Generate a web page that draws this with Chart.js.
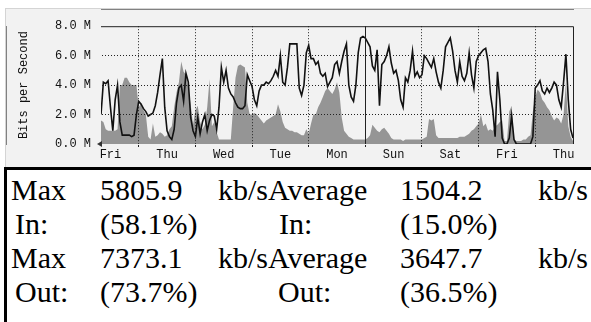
<!DOCTYPE html>
<html>
<head>
<meta charset="utf-8">
<script src="https://cdn.jsdelivr.net/npm/chart.js@4/dist/chart.umd.min.js"></script>
<style>
  html, body { margin: 0; padding: 0; background: #fff; }
  body { width: 591px; height: 322px; position: relative; overflow: hidden; }
  #graph {
    position: absolute; left: 5px; top: 8px; width: 586px; height: 159px;
    background: #f2f2f2; border-top: 1px solid #d4d4d4; border-left: 1px solid #d4d4d4;
    box-sizing: border-box;
  }
  #topRule { position: absolute; left: 4px; top: 167px; width: 587px; height: 3px; background: #000; }
  #leftRule { position: absolute; left: 4px; top: 167px; width: 3px; height: 155px; background: #000; }
  .t {
    position: absolute;
    font-family: 'Liberation Serif', 'Tinos', 'Times New Roman', 'DejaVu Serif', 'Noto Serif', serif;
    font-size: 30px; line-height: 34px; white-space: pre; color: #000;
  }
</style>
</head>
<body>
<div id="graph"><canvas id="mrtgChart"></canvas></div>
<div id="topRule"></div>
<div id="leftRule"></div>
<div id="stats"></div>

<script>
// --- datos (Mbit/s), una muestra por hora, de ahora hacia atrás ---

// salida (línea negra)
const outBits = [
  2.0, 4.2, 4.1, 4.3, 2.5, 0.9, 3.0, 4.0, 1.5, 0.6,
  0.6, 0.6, 0.6, 0.5, 0.6, 2.0, 2.9, 2.7, 2.4, 2.2,
  1.9, 2.0, 2.1, 2.6, 3.5, 4.7, 5.8, 2.5, 0.9, 0.5,
  0.3, 1.0, 2.8, 3.8, 4.0, 2.9, 4.8, 4.2, 1.8, 0.9,
  0.5, 1.8, 0.7, 1.5, 2.0, 0.9, 1.6, 2.0, 1.9, 1.0,
  2.5, 5.2, 4.2, 5.0, 3.8, 3.4, 3.2, 2.8, 2.5, 2.4,
  2.4, 2.6, 4.7, 4.3, 3.9, 3.0, 2.6, 3.6, 4.0, 4.0,
  4.2, 4.1, 4.3, 4.6, 5.0, 4.6, 6.0, 4.2, 4.0, 5.2,
  6.8, 6.8, 6.8, 6.8, 3.8, 3.3, 4.0, 6.2, 6.7, 5.8,
  5.8, 5.4, 5.6, 4.8, 4.6, 4.8, 3.9, 4.2, 4.5, 5.4,
  5.6, 4.8, 5.6, 6.3, 6.8, 4.0, 3.2, 2.9, 4.0, 6.2,
  7.2, 7.3, 7.2, 6.9, 6.6, 5.3, 5.0, 6.4, 2.6, 5.4,
  5.6, 6.0, 6.6, 5.5, 4.8, 5.0, 4.3, 3.0, 2.5, 4.5,
  4.2, 5.0, 6.3, 4.6, 4.9, 4.5, 4.7, 6.0, 5.8, 5.5,
  5.2, 5.8, 4.9, 4.2, 3.8, 5.0, 6.6, 6.9, 7.2, 6.3,
  5.0, 4.2, 5.6, 4.6, 4.3, 4.8, 6.2, 4.7, 3.8, 5.6,
  6.0, 6.2, 6.4, 6.5, 5.6, 3.4, 2.3, 0.5, 4.9, 3.0,
  0.4, 0.0, 0.0, 0.4, 1.9, 0.3, 0.0, 0.0, 0.0, 0.0,
  0.0, 0.0, 0.0, 0.5, 3.8, 4.0, 4.3, 3.6, 3.4, 3.8,
  3.5, 3.8, 4.2, 4.0, 3.0, 2.5, 4.2, 6.1, 3.0, 1.0,
  0.4];

// entrada (área gris)
const inBits = [
  1.6, 1.5, 1.0, 0.9, 0.9, 0.9, 0.9, 1.0, 4.0, 4.0,
  4.5, 4.5, 4.2, 4.0, 4.0, 4.0, 2.5, 2.8, 2.3, 2.0,
  0.5, 0.3, 1.4, 0.5, 0.6, 0.8, 0.7, 0.5, 0.6, 1.0,
  1.2, 2.5, 3.5, 4.2, 5.6, 4.9, 4.7, 3.8, 2.7, 1.3,
  2.3, 2.6, 1.5, 1.0, 1.3, 2.5, 4.4, 1.2, 1.5, 0.8,
  0.3, 0.3, 0.3, 0.3, 0.3, 0.3, 2.5, 4.5, 5.3, 5.4,
  5.3, 5.2, 2.8, 2.0, 2.0, 2.1, 2.0, 1.8, 1.6, 1.4,
  1.6, 1.7, 1.8, 1.9, 2.0, 2.7, 2.2, 1.5, 1.1, 1.0,
  0.9, 0.9, 0.8, 0.8, 0.7, 0.6, 0.6, 1.0, 0.7, 1.4,
  2.0, 2.0, 2.5, 2.8, 3.2, 3.6, 3.8, 3.6, 3.4, 3.7,
  4.2, 3.5, 1.8, 0.9, 0.7, 0.5, 0.4, 0.3, 0.3, 0.3,
  0.3, 0.3, 0.3, 0.4, 0.6, 1.3, 1.1, 0.9, 0.8, 1.0,
  1.1, 0.9, 0.7, 0.4, 0.3, 0.3, 0.3, 0.3, 0.2, 0.3,
  0.3, 0.3, 0.3, 0.3, 0.3, 0.3, 0.3, 0.4, 0.5, 1.7,
  1.6, 1.7, 0.6, 0.4, 0.4, 0.4, 0.4, 0.4, 0.4, 0.4,
  0.4, 0.4, 0.5, 0.5, 0.5, 0.6, 0.7, 0.9, 1.0, 1.2,
  1.4, 2.0, 1.2, 1.4, 0.9, 1.0, 0.9, 1.2, 1.3, 1.5,
  1.6, 0.2, 0.2, 2.2, 2.6, 0.3, 0.2, 0.2, 0.2, 0.3,
  0.3, 0.5, 0.6, 2.2, 3.2, 3.7, 3.5, 3.0, 2.8, 2.5,
  2.3, 1.9, 1.6, 1.8, 1.7, 1.4, 2.0, 4.2, 1.2, 0.5,
  0.2];

// horas atrás de cada muestra
const hours = outBits.map((_, i) => i);

// medianoche (rejilla) y mediodía (etiquetas)
const midnightHours = [16, 40, 64, 88, 112, 136, 160, 184];
const weekStartHour = 112;
const dayHours = [4, 28, 52, 76, 100, 124, 148, 172, 196];
const dayLabels = ['Fri', 'Thu', 'Wed', 'Tue', 'Mon', 'Sun', 'Sat', 'Fri', 'Thu'];
const yTicks = [0, 2, 4, 6, 8];

// tabla de resumen
const statRows = [
  [['Max', 11], ['5805.9', 100], ['kb/sAverage', 218], ['1504.2', 400], ['kb/s', 538]],
  [['In:', 15], ['(58.1%)', 100], ['In:', 279], ['(15.0%)', 400]],
  [['Max', 11], ['7373.1', 100], ['kb/sAverage', 218], ['3647.7', 400], ['kb/s', 538]],
  [['Out:', 15], ['(73.7%)', 100], ['Out:', 278], ['(36.5%)', 400]]
];
const statBaselines = [200, 234, 268, 302];

const stats = document.getElementById('stats');
statRows.forEach((row, r) => {
  row.forEach(([text, x]) => {
    const s = document.createElement('div');
    s.className = 't';
    s.textContent = text;
    s.style.left = x + 'px';
    s.style.top = (statBaselines[r] - 27) + 'px';
    stats.appendChild(s);
  });
});

const monoFont = { family: '"Liberation Mono", "DejaVu Sans Mono", monospace', size: 12 };
const gridTicks = midnightHours.concat(dayHours).sort((a, b) => a - b);

// marco superior/derecho y flecha del origen
const framePlugin = {
  id: 'frame',
  afterDraw(chart) {
    const { ctx, chartArea: a } = chart;
    ctx.save();
    ctx.strokeStyle = '#222';
    ctx.lineWidth = 1;
    ctx.beginPath();
    ctx.moveTo(a.left, a.top + 0.5);
    ctx.lineTo(a.right + 0.5, a.top + 0.5);
    ctx.lineTo(a.right + 0.5, a.bottom);
    ctx.stroke();
    ctx.fillStyle = '#333';
    ctx.beginPath();
    ctx.moveTo(a.left - 4, a.bottom);
    ctx.lineTo(a.left + 1, a.bottom - 3);
    ctx.lineTo(a.left + 1, a.bottom + 3);
    ctx.closePath();
    ctx.fill();
    ctx.restore();
  }
};

new Chart(document.getElementById('mrtgChart'), {
  type: 'line',
  data: {
    labels: hours,
    datasets: [{
      label: 'Out',
      data: hours.map((h, i) => ({ x: h, y: outBits[i] })),
      borderColor: '#111',
      borderWidth: 1.6,
      pointRadius: 0,
      tension: 0,
      fill: false
    }, {
      label: 'In',
      data: hours.map((h, i) => ({ x: h, y: inBits[i] })),
      borderWidth: 0,
      borderColor: 'rgba(0,0,0,0)',
      backgroundColor: '#959595',
      pointRadius: 0,
      tension: 0,
      fill: 'origin'
    }]
  },
  options: {
    responsive: true,
    maintainAspectRatio: false,
    animation: false,
    layout: { padding: { left: 11, top: 16, right: 18, bottom: 0 } },
    plugins: { legend: { display: false }, tooltip: { enabled: false } },
    scales: {
      x: {
        type: 'linear',
        min: 0,
        max: 200,
        afterBuildTicks: (scale) => { scale.ticks = gridTicks.map(v => ({ value: v })); },
        afterFit: (scale) => { scale.height = 23; },
        ticks: {
          autoSkip: false,
          maxRotation: 0,
          padding: 1,
          color: '#111',
          font: monoFont,
          callback: (v) => { const i = dayHours.indexOf(v); return i >= 0 ? dayLabels[i] : ''; }
        },
        grid: {
          z: 1,
          tickLength: 3,
          color: (c) => (c.tick && midnightHours.includes(c.tick.value)) ? '#222' : 'rgba(0,0,0,0)',
          tickColor: (c) => (c.tick && midnightHours.includes(c.tick.value)) ? '#222' : 'rgba(0,0,0,0)'
        },
        border: {
          color: '#111',
          width: 1,
          dash: (c) => (c.tick && c.tick.value === weekStartHour) ? [] : [1, 2]
        }
      },
      y: {
        min: 0,
        max: 8,
        afterBuildTicks: (scale) => { scale.ticks = yTicks.map(v => ({ value: v })); },
        afterFit: (scale) => { scale.width = 84; },
        title: {
          display: true,
          text: 'Bits per Second',
          color: '#111',
          font: monoFont,
          padding: 0
        },
        ticks: {
          padding: 10,
          color: '#111',
          font: monoFont,
          callback: (v) => v.toFixed(1) + ' M'
        },
        grid: {
          z: 1,
          drawTicks: false,
          color: (c) => (c.tick && c.tick.value > 0 && c.tick.value < 8) ? '#222' : 'rgba(0,0,0,0)'
        },
        border: { color: '#111', width: 1, dash: [1, 2] }
      }
    }
  },
  plugins: [framePlugin]
});
</script>
</body>
</html>
